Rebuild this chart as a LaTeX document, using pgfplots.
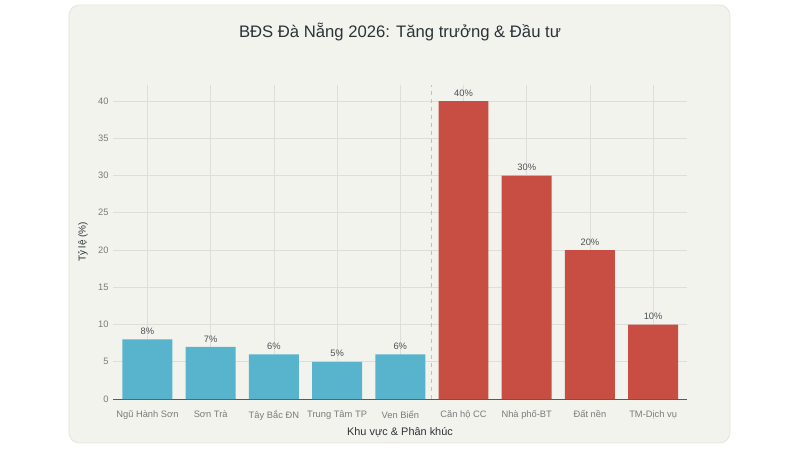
\documentclass[border=0pt]{standalone}
\usepackage{fontspec}
\setmainfont{Liberation Sans}
\usepackage{pgfplots}
\pgfplotsset{compat=1.18}
\definecolor{panel}{HTML}{F3F3EE}
\definecolor{panelline}{HTML}{E4E4DD}
\definecolor{gridgray}{HTML}{DEDED8}
\definecolor{tickgray}{HTML}{7A7A7A}
\definecolor{axisgray}{HTML}{5A5A5A}
\definecolor{titlecol}{HTML}{2B3338}
\definecolor{barblue}{HTML}{58B4CC}
\definecolor{barred}{HTML}{C84E43}
\definecolor{dashcol}{HTML}{C9BDBB}
\begin{document}
\begin{tikzpicture}[x=0.75pt,y=0.75pt]
\fill[white] (0,0) rectangle (800,450);
\filldraw[fill=panel, draw=panelline, line width=0.6pt, rounded corners=8pt] (69,7) rectangle (730,445);
\node[font=\fontsize{12.5}{14}\selectfont, text=titlecol] at (400,418) {BĐS Đà Nẵng 2026: Tăng trưởng \& Đầu tư};
\node[font=\fontsize{8.2}{10}\selectfont, text=titlecol] at (400,18) {Khu vực \& Phân khúc};
\node[font=\fontsize{7.5}{9}\selectfont, text=titlecol, rotate=90] at (83,208) {Tỷ lệ (\%)};
\begin{axis}[
  at={(84.98pt,38.25pt)}, anchor=south west,
  scale only axis, width=430pt, height=235.5pt,
  xmin=-0.54, xmax=8.53, ymin=0, ymax=42.15,
  axis x line*=bottom, axis y line*=left,
  x axis line style={draw=axisgray, line width=0.7pt, -},
  y axis line style={draw=none},
  tick style={draw=none},
  grid=major, major grid style={draw=gridgray, line width=0.5pt},
  xtick={0,...,8},
  xticklabels={Ngũ Hành Sơn, Sơn Trà, Tây Bắc ĐN, Trung Tâm TP, Ven Biển, Căn hộ CC, Nhà phố-BT, Đất nền, TM-Dịch vụ},
  ytick={0,5,...,40},
  tick label style={font=\fontsize{7}{8}\selectfont, text=tickgray},
  /pgf/number format/assume math mode=true,
  xticklabel style={yshift=-1pt},
  ybar, bar width=0.79, bar shift=0pt,
  nodes near coords={\pgfmathprintnumber{\pgfplotspointmeta}\%},
  nodes near coords style={font=\fontsize{7}{8}\selectfont, text=titlecol!85, /pgf/number format/assume math mode=true},
]
\addplot[fill=barblue, draw=none] coordinates {(0,8) (1,7) (2,6) (3,5) (4,6)};
\addplot[fill=barred, draw=none] coordinates {(5,40) (6,30) (7,20) (8,10)};
\draw[dashcol, dashed, line width=0.6pt] (axis cs:4.5,0) -- (axis cs:4.5,42.15);
\end{axis}
\end{tikzpicture}
\end{document}
